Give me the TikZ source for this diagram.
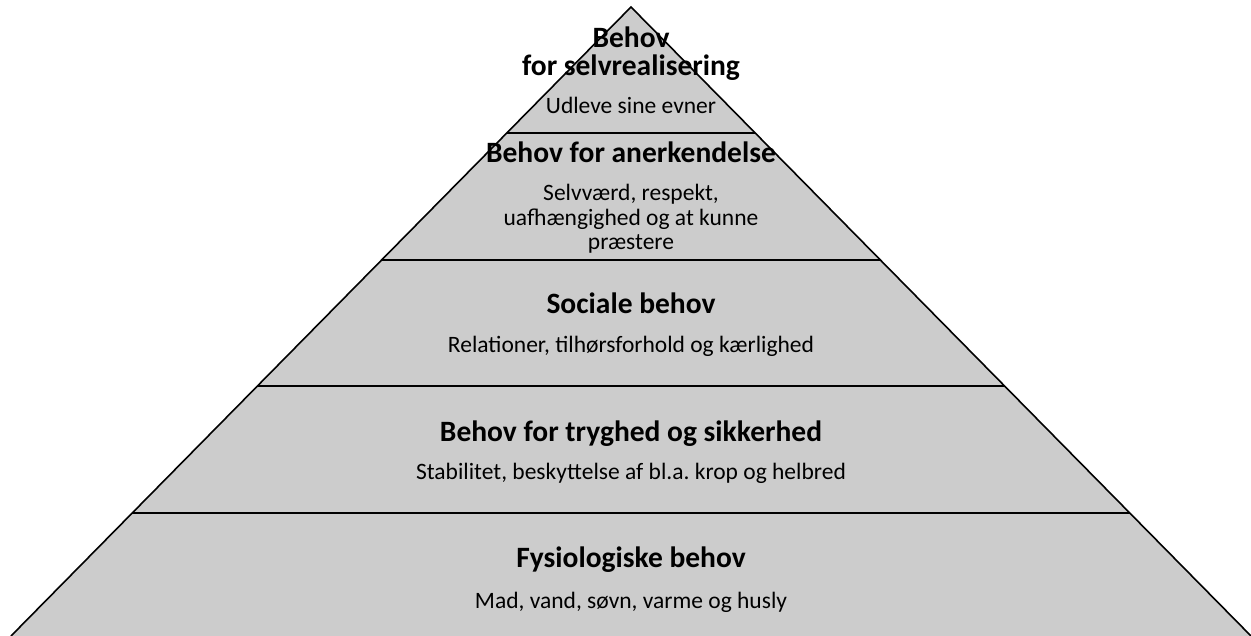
\documentclass[tikz,border=0pt]{standalone}
\usepackage{fontspec}
\setmainfont{Carlito}
\frenchspacing
\begin{document}
\begin{tikzpicture}[x=1pt,y=-1pt,
  tier/.style={draw=black,line width=1.6pt},
  title/.style={font=\bfseries\fontsize{29.5}{32}\selectfont,inner sep=0pt,anchor=base},
  body/.style={font=\fontsize{23.5}{26}\selectfont,inner sep=0pt,anchor=base}]
\useasboundingbox (0,0) rectangle (1251,636);
% pyramid outline
\coordinate (apex) at (631,7);
\coordinate (bl) at (11,636);
\coordinate (br) at (1251,636);
\fill[gray!40] (apex) -- (br) -- (bl) -- cycle;
\draw[tier,line join=miter] (bl) -- (apex) -- (br);
% tier boundaries
\foreach \y/\n in {133/a,260/b,386/c,513/d}{
  \pgfmathsetmacro{\hw}{(\y-7)/629*620}
  \coordinate (\n l) at ({631-\hw},\y);
  \coordinate (\n r) at ({631+\hw},\y);
  \draw[tier] (\n l) -- (\n r);
}
% texts, one node per printed line, placed by baseline
\node[title] (t1a) at (631,48) {Behov};
\node[title] (t1b) at (631,76) {for selvrealisering};
\node[body] (b1) at (631,114) {Udleve sine evner};
\node[title] (t2) at (631,163) {Behov for anerkendelse};
\node[body] (b2a) at (631,201) {Selvværd, respekt,};
\node[body] (b2b) at (631,226) {uafhængighed og at kunne};
\node[body] (b2c) at (631,250) {præstere};
\node[title] (t3) at (631,314) {Sociale behov};
\node[body] (b3) at (631,353) {Relationer, tilhørsforhold og kærlighed};
\node[title] (t4) at (631,441) {Behov for tryghed og sikkerhed};
\node[body] (b4) at (631,479) {Stabilitet, beskyttelse af bl.a. krop og helbred};
\node[title] (t5) at (631,567) {Fysiologiske behov};
\node[body] (b5) at (631,608) {Mad, vand, søvn, varme og husly};
\end{tikzpicture}
\end{document}
